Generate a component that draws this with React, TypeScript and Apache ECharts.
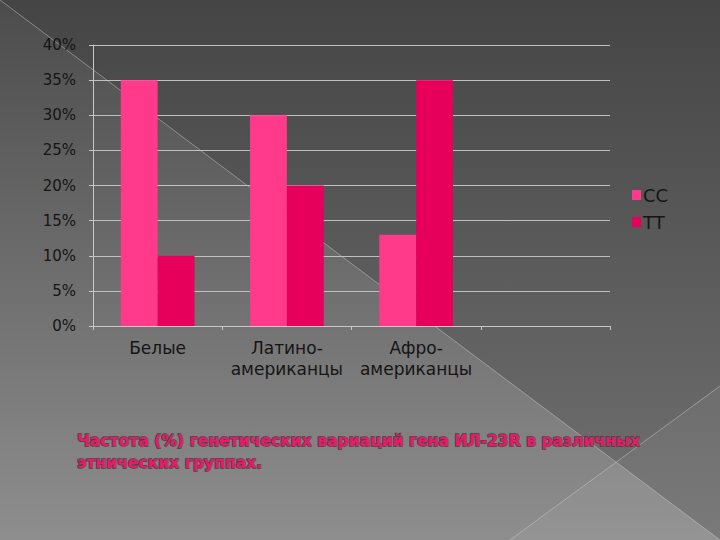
import React, { useEffect, useRef } from "react";
import * as echarts from "echarts";

const categories = ["Белые", "Латино-\nамериканцы", "Афро-\nамериканцы", ""];
const seriesNames = ["CC", "TT"];
const ccValues = [35, 30, 13, null];
const ttValues = [10, 20, 35, null];
const yTicks = { min: 0, max: 40, interval: 5 };
const titleText =
  "Частота (%) генетических вариаций гена ИЛ-23R в различных\nэтнических группах.";

const FONT = "DejaVu Sans";

export default function App() {
  const ref = useRef<HTMLDivElement>(null);
  useEffect(() => {
    if (!ref.current) return;
    const chart = echarts.init(ref.current, null, { renderer: "svg" });
    chart.setOption({
      animation: false,
      backgroundColor: "#5a5a5a",
      graphic: [
        {
          type: "rect",
          z: -10,
          silent: true,
          shape: { x: 0, y: 0, width: 720, height: 540 },
          style: {
            fill: new echarts.graphic.LinearGradient(0, 0, 0, 1, [
              { offset: 0, color: "#4c4c4c" },
              { offset: 1, color: "#8e8e8e" },
            ]),
          },
        },
        {
          type: "polygon",
          z: -9,
          silent: true,
          shape: { points: [[0, 0], [720, 0], [720, 540]] },
          style: {
            fill: new echarts.graphic.LinearGradient(0, 0, 0, 1, [
              { offset: 0, color: "#454545" },
              { offset: 1, color: "#727272" },
            ]),
          },
        },
        {
          type: "polygon",
          z: -8,
          silent: true,
          shape: { points: [[510, 540], [720, 386], [720, 540]] },
          style: { fill: "rgba(255,255,255,0.06)" },
        },
        {
          type: "line",
          z: -7,
          silent: true,
          shape: { x1: 0, y1: 0, x2: 720, y2: 540 },
          style: { stroke: "rgba(210,210,210,0.45)", lineWidth: 1 },
        },
        {
          type: "line",
          z: -7,
          silent: true,
          shape: { x1: 510, y1: 540, x2: 720, y2: 386 },
          style: { stroke: "rgba(210,210,210,0.45)", lineWidth: 1 },
        },
      ],
      title: {
        text: titleText,
        left: 72,
        top: 425,
        textStyle: {
          fontFamily: FONT,
          fontWeight: "bold",
          fontSize: 15.6,
          lineHeight: 22,
          color: "#ea1a6a",
          textBorderColor: "rgba(70,50,55,0.85)",
          textBorderWidth: 1.5,
        },
      },
      legend: {
        orient: "vertical",
        left: 627,
        top: 181,
        itemWidth: 9,
        itemHeight: 10,
        itemGap: 9,
        icon: "rect",
        data: seriesNames,
        textStyle: { fontFamily: FONT, fontSize: 18, color: "#151515", padding: [0, 0, 0, -3] },
      },
      grid: { left: 93, right: 110, top: 45, bottom: 214 },
      xAxis: {
        type: "category",
        data: categories,
        axisLine: { lineStyle: { color: "#c8c8c8", width: 1 } },
        axisTick: { show: true, length: 4, lineStyle: { color: "#c8c8c8" } },
        axisLabel: {
          fontFamily: FONT,
          fontSize: 17,
          color: "#151515",
          lineHeight: 21,
          margin: 11,
          interval: 0,
        },
      },
      yAxis: {
        type: "value",
        min: yTicks.min,
        max: yTicks.max,
        interval: yTicks.interval,
        axisLine: { show: true, lineStyle: { color: "#c8c8c8", width: 1 } },
        axisTick: { show: true, length: 4, lineStyle: { color: "#c8c8c8" } },
        splitLine: { lineStyle: { color: "#c0c0c0", width: 1 } },
        axisLabel: {
          fontFamily: FONT,
          fontSize: 15,
          color: "#151515",
          margin: 17,
          formatter: "{value}%",
        },
      },
      series: [
        {
          name: seriesNames[0],
          type: "bar",
          data: ccValues,
          itemStyle: { color: "#ff3a8a" },
          barGap: "0%",
          barCategoryGap: "43%",
        },
        {
          name: seriesNames[1],
          type: "bar",
          data: ttValues,
          itemStyle: { color: "#e6005c" },
          barGap: "0%",
          barCategoryGap: "43%",
        },
      ],
    });
    return () => chart.dispose();
  }, []);
  return (
    <div
      ref={ref}
      style={{ width: 720, height: 540, position: "absolute", left: 0, top: 0 }}
    />
  );
}
